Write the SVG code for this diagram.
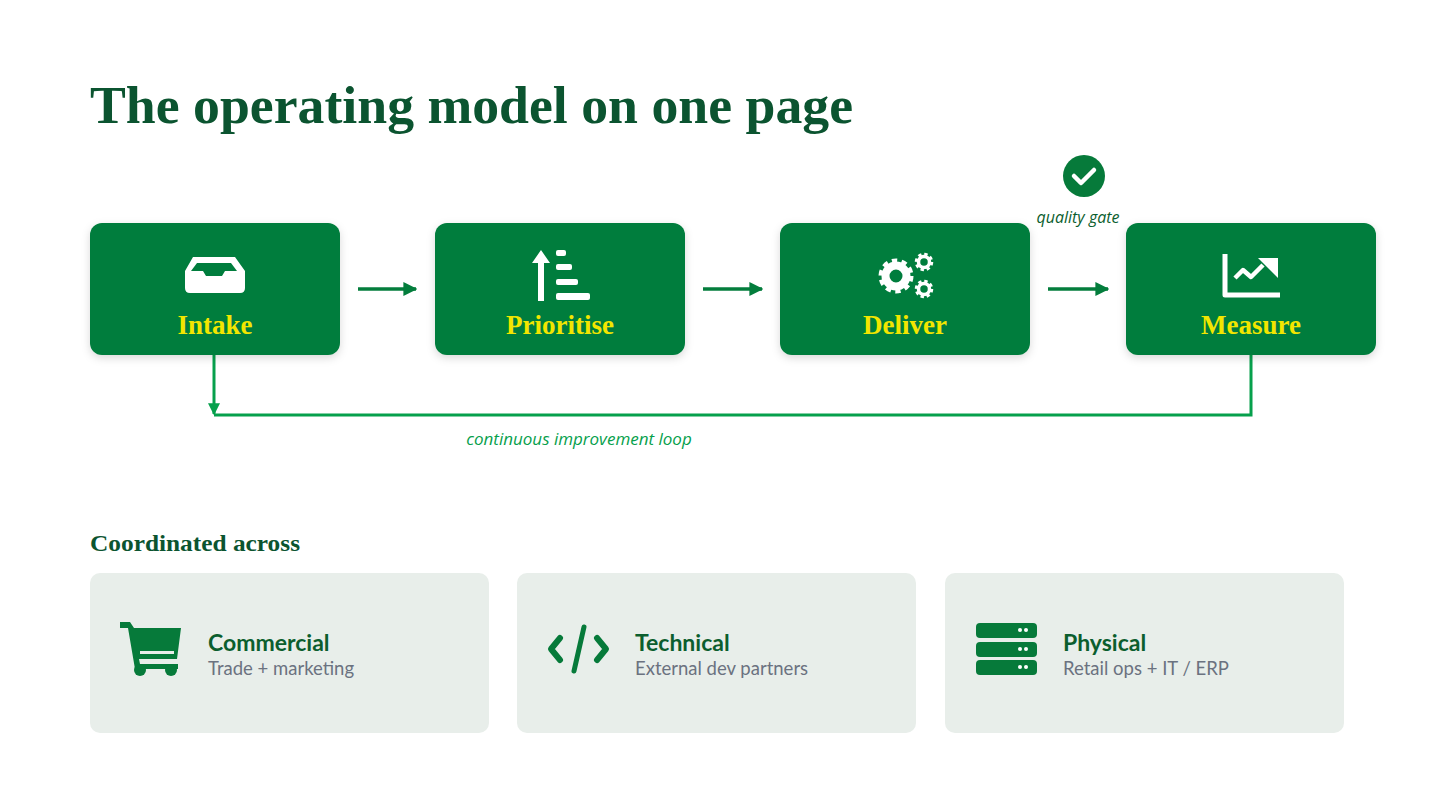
<svg xmlns="http://www.w3.org/2000/svg" width="1440" height="810" viewBox="0 0 1440 810">
<defs>
<style>
.node{fill:#037D3C}
.lbl{font-family:"Liberation Serif",serif;font-weight:bold;font-size:27px;fill:#F2E600;text-anchor:middle}
.card{fill:#E8EEEA}
.ct{font-family:Lato,"Noto Sans",sans-serif;font-weight:bold;font-size:23px;fill:#0B5E2E}
.cs{font-family:Lato,"Noto Sans",sans-serif;font-size:18.5px;fill:#6B7280}
.ic{fill:#fff}
.gi{fill:#067A3A}
</style>
<filter id="sh" x="-10%" y="-10%" width="120%" height="130%"><feDropShadow dx="0" dy="3" stdDeviation="4" flood-color="#000" flood-opacity="0.15"/></filter>
<marker id="ah" viewBox="0 0 10 10" refX="9" refY="5" markerWidth="4" markerHeight="4" orient="auto"><path d="M0,0L10,5L0,10z" fill="#037D3C"/></marker>
<marker id="ah2" viewBox="0 0 10 10" refX="9" refY="5" markerWidth="4" markerHeight="4" orient="auto"><path d="M0,0L10,5L0,10z" fill="#06A04C"/></marker>
</defs>
<rect width="1440" height="810" fill="#fff"/>
<text x="90" y="123" font-family="Liberation Serif,serif" font-weight="bold" font-size="52" fill="#0B5430" textLength="763" lengthAdjust="spacingAndGlyphs">The operating model on one page</text>

<g id="connectors">
<line x1="358" y1="289" x2="416" y2="289" stroke="#037D3C" stroke-width="3.5" marker-end="url(#ah)"/>
<line x1="703" y1="289" x2="762" y2="289" stroke="#037D3C" stroke-width="3.5" marker-end="url(#ah)"/>
<line x1="1048" y1="289" x2="1108" y2="289" stroke="#037D3C" stroke-width="3.5" marker-end="url(#ah)"/>
<path d="M1251,355V415H214" fill="none" stroke="#06A04C" stroke-width="3"/>
<line x1="214" y1="355" x2="214" y2="414" stroke="#06A04C" stroke-width="3" marker-end="url(#ah2)"/>
<text x="579" y="445" text-anchor="middle" font-family="Open Sans,sans-serif" font-style="italic" font-size="17" fill="#06A04C">continuous improvement loop</text>
</g>

<g id="gate">
<circle cx="1084" cy="176" r="21" fill="#067A3A"/>
<path d="M1074,176l7,7l13,-13" fill="none" stroke="#fff" stroke-width="4.5" stroke-linecap="round" stroke-linejoin="round"/>
<text x="1078" y="223" text-anchor="middle" font-family="Open Sans,sans-serif" font-style="italic" font-size="16" fill="#0B5E2E">quality gate</text>
</g>

<g id="intake">
<rect class="node" x="90" y="223" width="250" height="132" rx="12" filter="url(#sh)"/>
<path class="ic" d="M193,257h42l10,14v17q0,5-5,5h-50q-5,0-5-5v-17zM197,263l-6,8h12l3,5h16l3-5h12l-6-8z" fill-rule="evenodd"/>
<text class="lbl" x="215" y="334">Intake</text>
</g>
<g id="prioritise">
<rect class="node" x="435" y="223" width="250" height="132" rx="12" filter="url(#sh)"/>
<path class="ic" d="M541,250l-9,13h6v38h6v-38h6z"/>
<rect class="ic" x="556" y="250" width="10" height="6" rx="2"/>
<rect class="ic" x="556" y="264" width="16" height="6" rx="2"/>
<rect class="ic" x="556" y="279" width="22" height="6" rx="2"/>
<rect class="ic" x="556" y="293" width="34" height="7" rx="2"/>
<text class="lbl" x="560" y="334">Prioritise</text>
</g>
<g id="deliver">
<rect class="node" x="780" y="223" width="250" height="132" rx="12" filter="url(#sh)"/>
<g fill="none" stroke="#fff">
<circle cx="896" cy="276" r="13" stroke-width="9" stroke-dasharray="4.5 3.7"/>
<circle cx="896" cy="276" r="10.5" stroke-width="8"/>
<circle cx="924" cy="262" r="7" stroke-width="4.5" stroke-dasharray="3 2.5"/>
<circle cx="924" cy="262" r="5.5" stroke-width="3.5"/>
<circle cx="924" cy="289" r="7" stroke-width="4.5" stroke-dasharray="3 2.5"/>
<circle cx="924" cy="289" r="5.5" stroke-width="3.5"/>
</g>
<text class="lbl" x="905" y="334">Deliver</text>
</g>
<g id="measure">
<rect class="node" x="1126" y="223" width="250" height="132" rx="12" filter="url(#sh)"/>
<path d="M1225,254v41h55" fill="none" stroke="#fff" stroke-width="5" stroke-linejoin="round"/>
<path d="M1235,278l8-8l8,7l12-12" fill="none" stroke="#fff" stroke-width="4.5" stroke-linejoin="round"/>
<path class="ic" d="M1258,258h20v20z"/>
<text class="lbl" x="1251" y="334">Measure</text>
</g>

<text x="90" y="551" font-family="Liberation Serif,serif" font-weight="bold" font-size="24" fill="#0B5430" textLength="210" lengthAdjust="spacingAndGlyphs">Coordinated across</text>

<g id="commercial">
<rect class="card" x="90" y="573" width="399" height="160" rx="10"/>
<path class="gi" d="M120,622h10l4,6h47l-4,31h-38l1,5h38v5h-43l-7-41h-8z"/>
<circle class="gi" cx="140" cy="670" r="6"/><circle class="gi" cx="171" cy="670" r="6"/>
<rect x="140" y="651" width="34" height="3" fill="#E8EEEA"/>
<text class="ct" x="208" y="651">Commercial</text>
<text class="cs" x="208" y="675">Trade + marketing</text>
</g>
<g id="technical">
<rect class="card" x="517" y="573" width="399" height="160" rx="10"/>
<path d="M560,638l-9,11l9,11M597,638l9,11l-9,11" fill="none" stroke="#067A3A" stroke-width="6" stroke-linecap="round" stroke-linejoin="round"/>
<line x1="584" y1="627" x2="574" y2="671" stroke="#067A3A" stroke-width="5" stroke-linecap="round"/>
<text class="ct" x="635" y="651">Technical</text>
<text class="cs" x="635" y="675">External dev partners</text>
</g>
<g id="physical">
<rect class="card" x="945" y="573" width="399" height="160" rx="10"/>
<rect class="gi" x="976" y="623" width="61" height="15" rx="4"/>
<rect class="gi" x="976" y="642" width="61" height="15" rx="4"/>
<rect class="gi" x="976" y="660" width="61" height="15" rx="4"/>
<g fill="#fff"><circle cx="1020" cy="630" r="2"/><circle cx="1026" cy="630" r="2"/><circle cx="1020" cy="649" r="2"/><circle cx="1026" cy="649" r="2"/><circle cx="1020" cy="667" r="2"/><circle cx="1026" cy="667" r="2"/></g>
<text class="ct" x="1063" y="651">Physical</text>
<text class="cs" x="1063" y="675">Retail ops + IT / ERP</text>
</g>
</svg>
